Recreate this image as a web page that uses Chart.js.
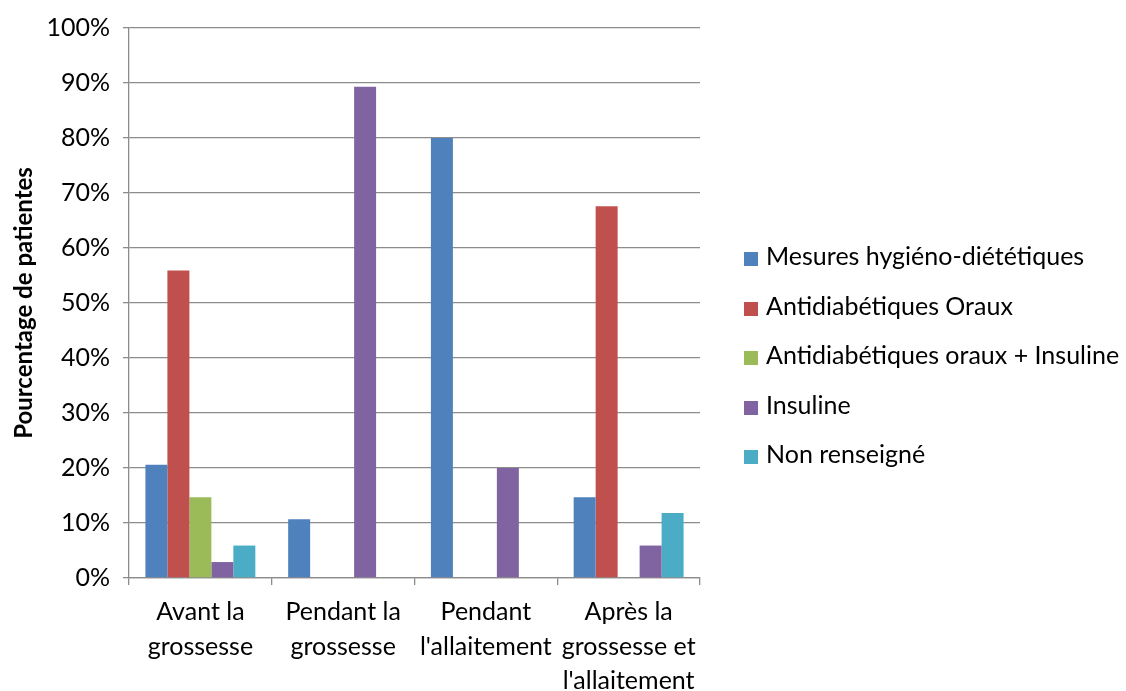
<!DOCTYPE html>
<html>
<head>
<meta charset="utf-8">
<script src="https://cdn.jsdelivr.net/npm/chart.js@4.4.0/dist/chart.umd.min.js"></script>
<style>
  html, body { margin: 0; padding: 0; background: #fff; }
  #wrap { position: relative; width: 1126px; height: 691px; overflow: hidden; }
  #legende { position: absolute; left: 744px; top: 238px; margin: 0; padding: 0; list-style: none;
             font-family: Lato, sans-serif; font-size: 25px; color: #000; }
  #legende li { height: 49.5px; line-height: 34px; white-space: nowrap; }
  #legende span.box { display: inline-block; width: 14px; height: 14px; margin-right: 8px; vertical-align: -1px; }
</style>
</head>
<body>
<div id="wrap">
  <canvas id="traitementChart" width="1126" height="691"></canvas>
  <ul id="legende"></ul>
</div>
<script>
// Catégories (périodes)
const categories = [
    ['Avant la', 'grossesse'],
    ['Pendant la', 'grossesse'],
    ['Pendant', "l'allaitement"],
    ['Après la', 'grossesse et', "l'allaitement"]
];

// Séries (% de patientes)
const mesuresHD = [20.6, 10.7, 80.0, 14.7];
const antidiabOraux = [55.9, 0, 0, 67.6];
const adoInsuline = [14.7, 0, 0, 0];
const insuline = [2.9, 89.3, 20.0, 5.9];
const nonRenseigne = [5.9, 0, 0, 11.8];

const yTicks = [0, 10, 20, 30, 40, 50, 60, 70, 80, 90, 100];

const FONT = 'Lato';
const gridColor = '#8c8c8c';

const datasets = [
    { label: 'Mesures hygiéno-diététiques', data: mesuresHD, backgroundColor: '#4F81BD' },
    { label: 'Antidiabétiques Oraux', data: antidiabOraux, backgroundColor: '#C0504D' },
    { label: 'Antidiabétiques oraux + Insuline', data: adoInsuline, backgroundColor: '#9BBB59' },
    { label: 'Insuline', data: insuline, backgroundColor: '#8064A2' },
    { label: 'Non renseigné', data: nonRenseigne, backgroundColor: '#4BACC6' }
];

const ctx = document.getElementById('traitementChart').getContext('2d');
const chart = new Chart(ctx, {
    type: 'bar',
    data: { labels: categories, datasets: datasets },
    options: {
        responsive: false,
        animation: false,
        layout: { padding: { top: 8, left: 0, right: 426, bottom: 0 } },
        datasets: {
            bar: {
                categoryPercentage: 0.77,
                barPercentage: 1.0,
                borderWidth: 0
            }
        },
        plugins: {
            legend: { display: false },
            tooltip: { enabled: false }
        },
        scales: {
            y: {
                min: 0,
                max: 100,
                afterBuildTicks: function(axis) {
                    axis.ticks = yTicks.map(v => ({ value: v }));
                },
                afterFit: function(scale) {
                    scale.width = 129;
                },
                ticks: {
                    color: '#000',
                    padding: 13,
                    font: { family: FONT, size: 25 },
                    callback: function(value) {
                        return value + '%';
                    }
                },
                grid: { color: gridColor, tickLength: 6, lineWidth: 1.3 },
                border: { color: gridColor, width: 1.3 },
                title: {
                    display: true,
                    text: 'Pourcentage de patientes',
                    color: '#000',
                    font: { family: FONT, size: 24, weight: 'bold' },
                    padding: { top: 10, bottom: 0 }
                }
            },
            x: {
                afterFit: function(scale) {
                    scale.height = 113;
                },
                ticks: {
                    color: '#000',
                    maxRotation: 0,
                    autoSkip: false,
                    padding: 10,
                    font: { family: FONT, size: 25, lineHeight: 1.38 }
                },
                grid: {
                    offset: true,
                    drawOnChartArea: false,
                    color: gridColor,
                    tickLength: 7,
                    lineWidth: 1.3
                },
                border: { color: gridColor, width: 1.3 }
            }
        }
    }
});

// Légende HTML à droite
const legende = document.getElementById('legende');
datasets.forEach(ds => {
    const li = document.createElement('li');
    const box = document.createElement('span');
    box.className = 'box';
    box.style.background = ds.backgroundColor;
    li.appendChild(box);
    li.appendChild(document.createTextNode(ds.label));
    legende.appendChild(li);
});
</script>
</body>
</html>
